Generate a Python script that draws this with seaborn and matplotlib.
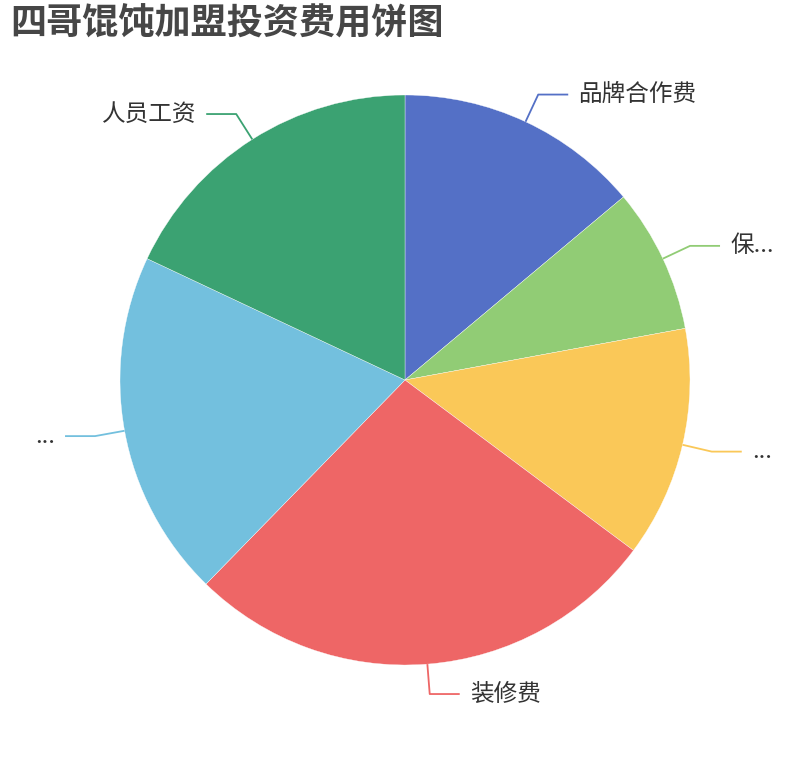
import numpy as np
import matplotlib
matplotlib.use("Agg")
import matplotlib.pyplot as plt
import seaborn as sns

# data (share of the pie in %)
labels = ["品牌合作费", "保...", "...", "装修费", "...", "人员工资"]
values = [13.9, 8.2, 13.1, 27.1, 19.7, 18.0]
colors = ["#5470c6", "#91cc75", "#fac858", "#ee6666", "#73c0de", "#3ba272"]
title = "四哥馄饨加盟投资费用饼图"

sns.set_theme(style="white")
plt.rcParams['font.family'] = ['Noto Sans CJK SC', 'DejaVu Sans']

fig = plt.figure(figsize=(8.1, 7.6), dpi=100)
ax = fig.add_axes([0, 0, 1, 1])
ax.set_xlim(0, 810)
ax.set_ylim(0, 760)
ax.axis('off')

cx, cy, r = 405, 380, 285
wedges, _ = ax.pie(values, colors=sns.color_palette(colors), startangle=90,
                   counterclock=False, center=(cx, cy), radius=r,
                   wedgeprops=dict(edgecolor='white', linewidth=0.25))
ax.set_xlim(0, 810)
ax.set_ylim(0, 760)

# leader lines + labels
for w, lab, col in zip(wedges, labels, colors):
    mid = np.deg2rad((w.theta1 + w.theta2) / 2)
    c, s = np.cos(mid), np.sin(mid)
    x0, y0 = cx + r * c, cy + r * s
    x1, y1 = cx + (r + 30) * c, cy + (r + 30) * s
    side = 1 if c >= 0 else -1
    x2 = x1 + side * 30
    ax.plot([x0, x1, x2], [y0, y1, y1], color=col, lw=1.3, solid_capstyle='butt')
    ax.text(x2 + side * 10, y1, lab, fontsize=17, color='#333333',
            ha='left' if side > 0 else 'right', va='center')

fig.text(10 / 810, 1 - 24 / 760, title, fontsize=26, fontweight='bold',
         color='#464646', ha='left', va='center')

fig.savefig("out.png", dpi=100)
